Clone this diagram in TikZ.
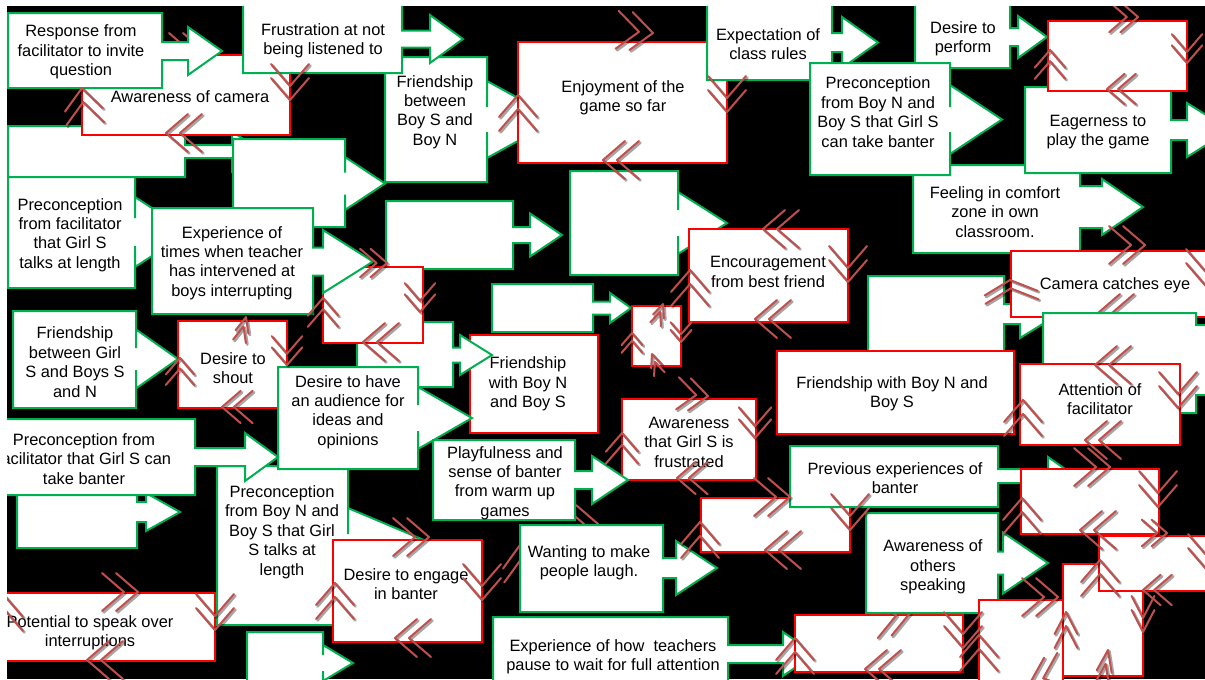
\documentclass[tikz,border=0pt]{standalone}
\usepackage{fontspec}
\setmainfont{Liberation Sans}
\definecolor{calloutgreen}{RGB}{0,176,80}
\definecolor{chevred}{RGB}{192,80,77}
% right-arrow callout: x1,y1,x2,y2, head base x, tip x, axis y, stem half height, head half height
\newcommand\callout[9]{%
  \filldraw[gbox] (#1,#2) -- (#3,#2) -- (#3,#7-#8) -- (#5,#7-#8) -- (#5,#7-#9)
    -- (#6,#7) -- (#5,#7+#9) -- (#5,#7+#8) -- (#3,#7+#8) -- (#3,#4) -- (#1,#4) -- cycle;}
% double chevron with a soft shadow: apex x, apex y, direction, extra transform
\newcommand\dchev[4]{%
  \begin{scope}[shift={(#1+1.5,#2+1.5)},rotate=#3,#4]
    \draw[chevshade] (-22,-19) -- (0,0) -- (-22,19);
    \draw[chevshade] (-36,-19) -- (-14,0) -- (-36,19);
  \end{scope}
  \begin{scope}[shift={(#1,#2)},rotate=#3,#4]
    \draw[chev] (-22,-19) -- (0,0) -- (-22,19);
    \draw[chev] (-36,-19) -- (-14,0) -- (-36,19);
  \end{scope}}
\begin{document}
\begin{tikzpicture}[x=0.75pt,y=-0.75pt,
  gbox/.style={fill=white,draw=calloutgreen,line width=1.5pt},
  rbox/.style={fill=white,draw=red,line width=1.7pt},
  lbl/.style={align=center,inner sep=0pt,font=\fontsize{12.3}{14.6}\selectfont,text=black},
  chev/.style={draw=chevred,line width=1.5pt,line cap=round,line join=round},
  chevshade/.style={draw=black,opacity=.35,line width=2pt,line cap=round,line join=round}]
\useasboundingbox (0,0) rectangle (1205,679);
\fill[white] (0,0) rectangle (1205,679);
\begin{scope}
\clip (7,6) rectangle (1205,679);
\fill[black] (7,6) rectangle (1205,679);

\dchev{205}{52}{0}{}
% upper left
\callout{8}{126}{185}{177}{232}{262}{151.5}{6.5}{20}
\draw[rbox] (82,55) rectangle (290,135);
\node[lbl] (tCamera) at (190,97) {Awareness of camera};
\callout{233}{139}{345}{227}{345}{385}{183.5}{11}{26.5}
\callout{385}{57}{487}{182}{487}{557}{119.5}{12.5}{38.5}
\node[lbl] (tFriendSN) at (435,112) {Friendship\\between\\Boy S and\\Boy N};
\callout{243}{-5}{402}{73}{430}{463}{39}{8.5}{24}
\node[lbl] (tFrust) at (323,41) {Frustration at not\\being listened to};
\callout{8}{13}{162}{88}{188}{222}{51}{9}{24}
\node[lbl] (tResp) at (81,52) {Response from\\facilitator to invite\\question};
\draw[rbox] (518,42) rectangle (727,163);
\node[lbl] (tEnjoy) at (623,98) {Enjoyment of the\\game so far};
% upper right
\callout{707}{-5}{832}{80}{842}{878}{42.5}{9.5}{25.5}
\node[lbl] (tExpect) at (768,44) {Expectation of\\class rules};
\callout{915}{-5}{1010}{68}{1018}{1047}{37}{9}{21}
\node[lbl] (tPerform) at (963,39) {Desire to\\perform};
\callout{913}{165}{1080}{253}{1102}{1143}{207}{21}{28}
\node[lbl] (tComfort) at (995,212) {Feeling in comfort\\zone in own\\classroom.};
\callout{810}{63}{950}{175}{950}{1002}{119.5}{12.5}{34.5}
\node[lbl] (tPreBanter) at (878,112) {Preconception\\from Boy N and\\Boy S that Girl S\\can take banter};
\callout{1025}{87}{1171}{173}{1187}{1230}{130}{10}{27}
\node[lbl] (tEager) at (1098,132) {Eagerness to\\play the game};
\draw[rbox] (1048,21) rectangle (1187,91);
% middle left
\callout{8}{177}{135}{288}{135}{189}{232}{14}{35}
\node[lbl] (tPreLength) at (70,235) {Preconception\\from facilitator\\that Girl S\\talks at length};
\callout{386}{201}{513}{269}{530}{562}{235}{8}{21.5}
\callout{570}{171}{678}{275}{678}{727}{223}{13}{31}
\draw[rbox] (470,335) rectangle (598,433);
\node[lbl] (tFriendNS) at (528,384) {Friendship\\with Boy N\\and Boy S};
\callout{357}{322}{453}{387}{460}{492}{355}{7.5}{20}
\draw[rbox] (323,267) rectangle (423,343);
\callout{152}{208}{313}{314}{323}{373}{261.5}{14}{31.5}
\node[lbl] (tExpTimes) at (232,263) {Experience of\\times when teacher\\has intervened at\\boys interrupting};
\callout{13}{311}{136}{408}{136}{178}{359}{11}{29.5}
\node[lbl] (tFriendGirl) at (75,362) {Friendship\\between Girl\\S and Boys S\\and N};
\draw[rbox] (178,321) rectangle (287,408);
\node[lbl] (tShout) at (233,368) {Desire to\\shout};
% lower left
\callout{217}{466}{348}{625}{348}{457}{554}{20}{46}
\node[lbl] (tPreTalks) at (282,532) {Preconception\\from Boy N and\\Boy S that Girl\\S talks at\\length};
\callout{278}{367}{418}{469}{418}{472}{418}{13}{31}
\node[lbl] (tAudience) at (348,412) {Desire to have\\an audience for\\ideas and\\opinions};
\callout{17}{478}{137}{548}{146}{180}{512}{10}{19}
\callout{-15}{419}{195}{495}{245}{278}{457}{9}{24}
\node[lbl] (tPreFacBanter) at (84,459) {Preconception from\\facilitator that Girl S can\\take banter};
\draw[rbox] (-5,593) rectangle (215,661);
\node[lbl] (tPotential) at (90,633) {Potential to speak over\\interruptions};
\draw[rbox] (333,540) rectangle (482,642);
\node[lbl] (tEngage) at (406,584) {Desire to engage\\in banter};
\callout{247}{632}{323}{700}{323}{353}{663}{8}{18}
% centre
\callout{492}{284}{593}{332}{610}{631}{308}{6.5}{15}
\draw[rbox] (632,306) rectangle (681,366);
\draw[rbox] (689,229) rectangle (848,322);
\node[lbl] (tEncourage) at (768,272) {Encouragement\\from best friend};
\draw[rbox] (622,399) rectangle (756,480);
\node[lbl] (tFrustrated) at (689,442) {Awareness\\that Girl S is\\frustrated};
\dchev{598}{524}{0}{}
\dchev{520}{545}{95}{}
\callout{433}{440}{575}{520}{592}{628}{480}{9}{24}
\node[lbl] (tPlayful) at (505,483) {Playfulness and\\sense of banter\\from warm up\\games};
\callout{520}{525}{663}{612}{676}{717}{568}{10}{27}
\node[lbl] (tLaugh) at (589,563) {Wanting to make\\people laugh.};
\callout{493}{617}{728}{700}{783}{815}{654}{9}{22}
\node[lbl] (tPause) at (613,657) {Experience of how\ \ teachers\\pause to wait for full attention};
\draw[rbox] (795,615) rectangle (963,672);
\draw[rbox] (701,498) rectangle (850,552);
% lower right
\callout{790}{446}{998}{507}{1048}{1075}{476}{7}{19}
\node[lbl] (tPrevious) at (895,478) {Previous experiences of\\banter};
\draw[rbox] (1021,469) rectangle (1159,534);
\dchev{910}{613}{10}{}
\callout{866}{513}{998}{613}{1003}{1048}{563}{11.5}{30.5}
\node[lbl] (tOthers) at (933,567) {Awareness of\\others\\speaking};
\draw[rbox] (979,600) rectangle (1063,690);
\draw[rbox] (1063,564) rectangle (1143,676);
\draw[rbox] (1099,536) rectangle (1215,591);
% right middle
\callout{868}{276}{1004}{360}{1020}{1059}{314}{10}{24}
\draw[rbox] (1011,251) rectangle (1215,317);
\node[lbl] (tCamEye) at (1115,285) {Camera catches eye};
\dchev{1098}{313}{180}{}
\callout{1043}{313}{1196}{413}{1220}{1260}{360}{35}{45}
\draw[rbox] (1020,364) rectangle (1180,445);
\node[lbl] (tAttention) at (1100,399) {Attention of\\facilitator};
\draw[rbox] (777,351) rectangle (1014,434);
\node[lbl] (tFriendNS2) at (892,394) {Friendship with Boy N and\\Boy S};

% double chevrons on the boxes
\dchev{82}{88}{95}{}
\dchev{290}{100}{-90}{}
\dchev{166}{133}{180}{}
\dchev{653}{33}{-5}{}
\dchev{518}{95}{90}{}
\dchev{727}{112}{-90}{}
\dchev{603}{160}{180}{}
\dchev{763}{229}{180}{}
\dchev{1138}{17}{0}{scale=.8}
\dchev{1187}{63}{-90}{scale=.8}
\dchev{1050}{50}{90}{scale=.8}
\dchev{1107}{89}{180}{scale=.8}
\dchev{387}{263}{0}{scale=.75}
\dchev{323}{298}{90}{scale=.8}
\dchev{363}{342}{180}{}
\dchev{246}{317}{75}{scale=.7,yscale=.5}
\dchev{287}{365}{-90}{scale=.8}
\dchev{180}{358}{90}{scale=.75}
\dchev{222}{407}{180}{scale=.85}
\dchev{420}{312}{-90}{scale=.8}
\dchev{663}{304}{70}{scale=.6,yscale=.5}
\dchev{681}{342}{-90}{scale=.55}
\dchev{632}{333}{90}{scale=.55}
\dchev{652}{354}{110}{scale=.6,yscale=.5}
\dchev{690}{270}{90}{}
\dchev{755}{319}{180}{}
\dchev{848}{282}{-90}{}
\dchev{708}{396}{-5}{scale=.85}
\dchev{755}{438}{-90}{scale=.85}
\dchev{622}{433}{90}{scale=.85}
\dchev{677}{478}{180}{scale=.85}
\dchev{1145}{245}{0}{}
\dchev{1010}{280}{95}{xscale=.6,yscale=1.4}
\dchev{1205}{285}{-90}{}
\dchev{1023}{400}{90}{}
\dchev{1095}{365}{180}{}
\dchev{1178}{408}{-90}{}
\dchev{1085}{440}{180}{}
\dchev{138}{592}{0}{}
\dchev{215}{630}{-90}{}
\dchev{4}{595}{90}{}
\dchev{87}{660}{180}{}
\dchev{335}{583}{90}{}
\dchev{429}{537}{0}{}
\dchev{482}{600}{-90}{}
\dchev{395}{638}{180}{}
\dchev{700}{522}{90}{}
\dchev{790}{497}{0}{}
\dchev{765}{550}{180}{}
\dchev{850}{530}{-90}{}
\dchev{795}{638}{90}{}
\dchev{963}{648}{-90}{}
\dchev{865}{669}{180}{}
\dchev{979}{635}{90}{}
\dchev{1058}{597}{0}{}
\dchev{1030}{683}{200}{}
\dchev{1066}{612}{90}{yscale=.6}
\dchev{1108}{650}{80}{yscale=.4}
\dchev{1143}{632}{-90}{yscale=.6}
\dchev{1100}{560}{90}{}
\dchev{1167}{533}{0}{scale=.7}
\dchev{1207}{570}{-90}{}
\dchev{1143}{590}{180}{scale=.8}
\dchev{1022}{498}{90}{}
\dchev{1110}{467}{0}{}
\dchev{1158}{507}{-90}{}
\dchev{1080}{530}{180}{}
\end{scope}
\end{tikzpicture}
\end{document}
